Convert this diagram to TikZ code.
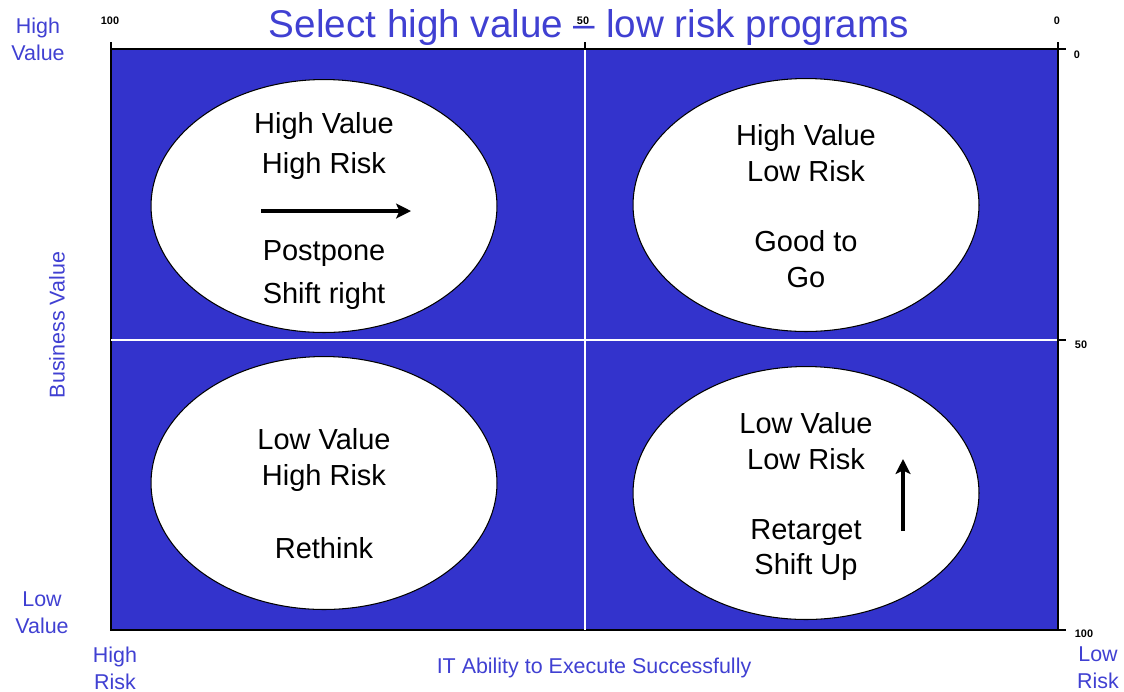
\documentclass[tikz,border=0pt]{standalone}
\usepackage{fontspec}
\setmainfont{Liberation Sans}
\usetikzlibrary{shapes.geometric,arrows.meta}
\definecolor{fieldblue}{RGB}{51,51,204}
\definecolor{labelblue}{RGB}{64,64,210}

\begin{document}
\begin{tikzpicture}[
  x=0.02cm, y=-0.02cm,
  quad/.style={ellipse, draw=black, fill=white, line width=0.6pt,
               minimum width=6.92cm, minimum height=5.06cm, inner sep=0pt},
  quadtext/.style={align=center, font=\fontsize{16.5}{20.4}\selectfont},
  axislabel/.style={align=center, text=labelblue,
                    font=\fontsize{12.2}{15.3}\selectfont},
  ticklabel/.style={font=\bfseries\fontsize{6.2}{7}\selectfont},
  axisline/.style={line width=1.2pt, black},
  divider/.style={white, line width=0.8pt},
  shiftarrow/.style={-{Stealth[length=8.5pt, width=8.5pt, inset=2pt]}, black}
]
\useasboundingbox (0,0) rectangle (1124,691);

% Plot field
\coordinate (nw) at (111,49);
\coordinate (se) at (1058,630);
\coordinate (ne) at (1058,49);
\fill[fieldblue] (nw) rectangle (se);
\draw[black, line width=0.6pt] (nw) rectangle (se);
\draw[divider] (585,49) -- (585,630);
\draw[divider] (111,340) -- (1058,340);

% Title
\node[text=labelblue, font=\fontsize{22}{26}\selectfont] (title) at (589,27)
  {Select high value -- low risk programs};

% Axes and ticks
\draw[axisline] (nw) -- (ne) -- (se);
\foreach \x in {111,585,1058}
  \draw[axisline] (\x,49) -- (\x,42);
\foreach \y in {49,340,630}
  \draw[axisline] (1058,\y) -- (1066,\y);

% Tick labels
\node[ticklabel] (top100) at (110,21) {100};
\node[ticklabel] (top50) at (583,21) {50};
\node[ticklabel] (top0) at (1057,21) {0};
\node[ticklabel] (right0) at (1077,55) {0};
\node[ticklabel] (right50) at (1081,345) {50};
\node[ticklabel] (right100) at (1084,634) {100};

% Axis labels
\node[axislabel] (hival) at (38,39) {High\\Value};
\node[axislabel] (loval) at (42,613) {Low\\Value};
\node[axislabel, rotate=90] (bizval) at (57,325) {Business Value};
\node[axislabel] (hirisk) at (115,668) {High\\Risk};
\node[axislabel] (itexec) at (594,668) {IT Ability to Execute Successfully};
\node[axislabel] (lorisk) at (1098,668) {Low\\Risk};

% Quadrant ellipses
\node[quad] (hvhr) at (324,206) {};
\node[quad] (hvlr) at (806,205) {};
\node[quad] (lvhr) at (324,483) {};
\node[quad] (lvlr) at (806,493) {};

% Upper left
\node[quadtext, font=\fontsize{16.5}{23}\selectfont] (hvhrname) at (324,146) {High Value\\High Risk};
\node[quadtext, font=\fontsize{16.5}{24}\selectfont] (hvhrmove) at (324,275) {Postpone\\Shift right};
\coordinate (rightfrom) at (261,211);
\coordinate (rightto) at (411,211);
\draw[shiftarrow, line width=2.8pt] (rightfrom) -- (rightto);

% Upper right
\node[quadtext] (hvlrname) at (806,153) {High Value\\Low Risk};
\node[quadtext] (hvlrmove) at (806,259) {Good to\\Go};

% Lower left
\node[quadtext] (lvhrname) at (324,460) {Low Value\\High Risk};
\node[quadtext] (lvhrmove) at (324,548) {Rethink};

% Lower right
\node[quadtext] (lvlrname) at (806,441) {Low Value\\Low Risk};
\node[quadtext] (lvlrmove) at (806,550) {Retarget\\Shift Up};
\coordinate (upfrom) at (903,531);
\coordinate (upto) at (903,459);
\draw[shiftarrow, line width=2.3pt] (upfrom) -- (upto);
\end{tikzpicture}
\end{document}
